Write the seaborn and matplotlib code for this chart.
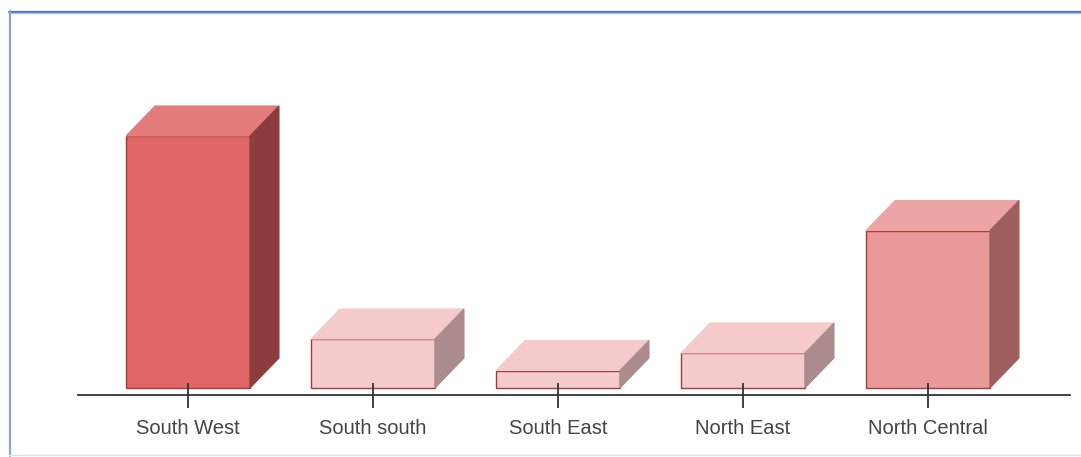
import seaborn as sns
import matplotlib.pyplot as plt
import pandas as pd
from matplotlib.patches import Polygon
from matplotlib.lines import Line2D

regions = ['South West', 'South south', 'South East', 'North East', 'North Central']
counts = [72, 14, 5, 10, 45]

front_colors = ['#e06666', '#f4cccc', '#f4cccc', '#f4cccc', '#ea9999']
top_colors = ['#e37b7b', '#f5caca', '#f5caca', '#f5caca', '#eda4a4']
side_colors = ['#8c3c3c', '#ab8b8b', '#ab8b8b', '#ab8b8b', '#a05f5f']

df = pd.DataFrame({'region': regions, 'count': counts})

W, H = 1081, 457
fig = plt.figure(figsize=(W / 100, H / 100), dpi=100)
sns.set_style('white')
plt.rcParams['font.family'] = ['Liberation Sans', 'DejaVu Sans']

# axes box in pixels: left 78, right 1070, bottom line at y=395, top at y=60
ax = fig.add_axes([78 / W, (H - 395) / H, (1070 - 78) / W, (395 - 60) / H])

sns.barplot(data=df, x='region', y='count', hue='region', palette=front_colors,
            legend=False, width=0.67, edgecolor='#a33a3a', linewidth=1.0,
            saturation=1, ax=ax, zorder=2)
ax.set_axisbelow(False)

px_per_unit = 3.5
ax.set_ylim(-7 / px_per_unit, (388 - 60) / px_per_unit)
ax.set_xlim(-110 / 185, 882 / 185)

for s in ['top', 'right', 'left']:
    ax.spines[s].set_visible(False)
ax.spines['bottom'].set_color('#333333')
ax.spines['bottom'].set_linewidth(1.3)
ax.set_yticks([])
ax.set_xlabel('')
ax.set_ylabel('')
ax.tick_params(axis='x', bottom=True, direction='inout', length=18, width=1.3,
               color='#333333', labelsize=14.5, labelcolor='#444444', pad=8)

# 3D depth faces built from the bar patches
fig.canvas.draw()
dx, dy = 29, 30
for patch, tc, sc in zip(ax.patches, top_colors, side_colors):
    x0, y0 = patch.get_x(), patch.get_y()
    x1, y1 = x0 + patch.get_width(), y0 + patch.get_height()
    (X0, Y0), (X1, Y1) = ax.transData.transform([(x0, y0), (x1, y1)])
    top = Polygon([(X0, Y1), (X1, Y1), (X1 + dx, Y1 + dy), (X0 + dx, Y1 + dy)],
                  closed=True, facecolor=tc, edgecolor=tc, linewidth=0.8,
                  transform=None, zorder=1)
    side = Polygon([(X1, Y0), (X1, Y1), (X1 + dx, Y1 + dy), (X1 + dx, Y0 + dy)],
                   closed=True, facecolor=sc, edgecolor=sc, linewidth=0.8,
                   transform=None, zorder=1)
    fig.add_artist(top)
    fig.add_artist(side)

# panel border
fig.add_artist(Line2D([9 / W, 1], [1 - 11.5 / H, 1 - 11.5 / H], color='#4a78c8', lw=1.6))
fig.add_artist(Line2D([9 / W, 1], [1 - 13 / H, 1 - 13 / H], color='#a9c8f0', lw=1.0))
fig.add_artist(Line2D([9.5 / W, 9.5 / W], [1 - 11 / H, 1 - 456 / H], color='#8ea6c6', lw=1.6))
fig.add_artist(Line2D([9 / W, 1], [1 - 455 / H, 1 - 455 / H], color='#cfe6f4', lw=1.0))

fig.savefig('out.png', dpi=100)
